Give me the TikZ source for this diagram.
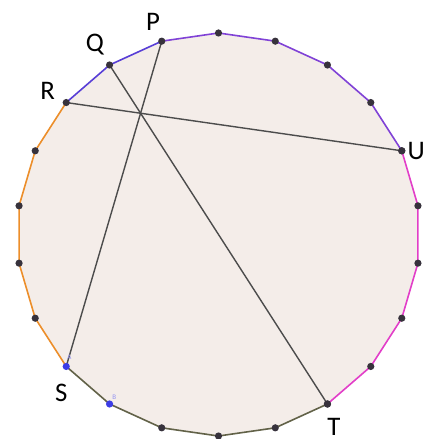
\documentclass[tikz,border=0pt]{standalone}
\usepackage{fontspec}
\setmainfont{Carlito}
\definecolor{polyfill}  {RGB}{244,237,233}
\definecolor{polyblue}  {RGB}{88,62,214}
\definecolor{polyviolet}{RGB}{128,66,214}
\definecolor{polypink}  {RGB}{226,62,200}
\definecolor{polyolive} {RGB}{98,98,72}
\definecolor{polyorange}{RGB}{236,142,42}
\definecolor{polydot}   {RGB}{55,50,60}
\definecolor{polypt}    {RGB}{60,60,230}
\usetikzlibrary{calc}
\tikzset{
  vtx/.style={circle,fill=#1,inner sep=0pt,minimum size=3.6pt},
  vtx/.default=polydot,
  edge/.style={line width=0.8pt,line join=round,draw=#1},
  chord/.style={line width=0.7pt,draw=black!70},
  lbl/.style={font=\fontsize{13.4}{16}\selectfont,inner sep=0pt},
  tiny/.style={font=\fontsize{3.5}{4}\selectfont,text=polypt!55,inner sep=0pt},
}

\begin{document}
\begin{tikzpicture}[x=0.5pt,y=0.5pt]
  \useasboundingbox (0,0) rectangle (425,439);

  % 22 corners on a circle, v0 at the top, going clockwise
  \foreach \k in {0,...,21}
    \coordinate (v\k) at ({218.5+201.5*cos(90-\k*360/22)},{204.5+201.5*sin(90-\k*360/22)});

  % face of the polygon
  \fill[polyfill] (v0) \foreach \k in {1,...,21}{ -- (v\k)} -- cycle;

  % coloured sides
  \draw[edge=polyblue]   (v19) -- (v20) -- (v21);
  \draw[edge=polyviolet] (v21) -- (v0) -- (v1) -- (v2) -- (v3) -- (v4);
  \draw[edge=polypink]   (v4) -- (v5) -- (v6) -- (v7) -- (v8) -- (v9);
  \draw[edge=polyolive]  (v9) -- (v10) -- (v11) -- (v12) -- (v13) -- (v14);
  \draw[edge=polyorange] (v14) -- (v15) -- (v16) -- (v17) -- (v18) -- (v19);

  % diagonals
  \draw[chord] (v21) -- (v14);
  \draw[chord] (v20) -- (v9);
  \draw[chord] (v19) -- (v4);

  % corner dots
  \foreach \k in {0,...,12,15,16,17,18}
    \node[vtx] (d\k) at (v\k) {};
  \node[vtx] (P) at (v21) {};
  \node[vtx] (Q) at (v20) {};
  \node[vtx] (R) at (v19) {};
  \node[vtx=polypt] (S) at (v14) {};
  \node[vtx=polypt] (B) at (v13) {};
  \node[vtx] (T) at (v9) {};
  \node[vtx] (U) at (v4) {};

  % letters
  \node[lbl] (lP) at ([xshift=-4.3pt, yshift=9.8pt] P) {P};
  \node[lbl] (lQ) at ([xshift=-7.3pt, yshift=10.3pt] Q) {Q};
  \node[lbl] (lR) at ([xshift=-9.3pt, yshift=6pt] R) {R};
  \node[lbl] (lU) at ([xshift=7.2pt] U) {U};
  \node[lbl] (lS) at ([xshift=-2.5pt, yshift=-13.3pt] S) {S};
  \node[lbl] (lT) at ([xshift=3.2pt, yshift=-11.2pt] T) {T};
  \node[tiny] (lA) at ([xshift=1.6pt, yshift=4.8pt] S) {A};
  \node[tiny] (lB) at ([xshift=2.4pt, yshift=3.4pt] B) {B};
\end{tikzpicture}
\end{document}
